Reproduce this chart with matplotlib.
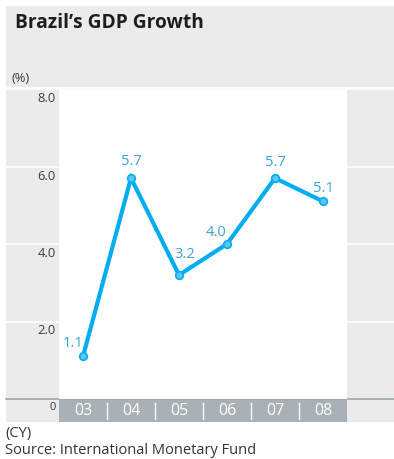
import matplotlib
matplotlib.use("Agg")
import matplotlib.pyplot as plt
from matplotlib.patches import Rectangle

plt.rcParams['font.family'] = ['Open Sans', 'DejaVu Sans']

years = ['03', '04', '05', '06', '07', '08']
growth = [1.1, 5.7, 3.2, 4.0, 5.7, 5.1]
yticks = [0, 2.0, 4.0, 6.0, 8.0]
# label offsets in pixels (dx, dy) relative to each point
lab_off = [(-10, 13), (0, 17), (6, 20), (-11, 12), (0, 16), (0, 13)]

W, H = 394, 459
BG = '#ebebeb'
BAND = '#a9b1b6'
LINE = '#00aeef'
LAB = '#3aa3da'

fig = plt.figure(figsize=(W / 100, H / 100), dpi=100)
fig.patch.set_facecolor('white')


def box(x0, y0, x1, y1):
    # pixel box (top-left origin) -> figure fraction rect
    return [x0 / W, 1 - y1 / H, (x1 - x0) / W, (y1 - y0) / H]


# background layer
bg = fig.add_axes([0, 0, 1, 1])
bg.set_xlim(0, W)
bg.set_ylim(H, 0)
bg.axis('off')
bg.add_patch(Rectangle((6, 6), 388, 416, color=BG, lw=0))
bg.add_patch(Rectangle((59, 399), 288, 23, color=BAND, lw=0))
bg.plot([6, 394], [88, 88], color='white', lw=1.2)
bg.plot([6, 394], [399, 399], color='#9ea7ac', lw=1.2)

# main plot area
px0, py0, px1, py1 = 59, 89, 347, 399
ax = fig.add_axes(box(px0, py0, px1, py1))
ax.set_facecolor('white')
ax.set_xlim(-0.5, len(years) - 0.5)
ax.set_ylim(0, 8)
for s in ax.spines.values():
    s.set_visible(False)
ax.set_xticks([])
ax.set_yticks([])

# white lines across side columns at each tick
for t in yticks[1:]:
    yp = py1 - (t / 8) * (py1 - py0)
    bg.plot([6, px0], [yp, yp], color='white', lw=1.2)
    bg.plot([px1, 394], [yp, yp], color='white', lw=1.2)
    bg.text(56, yp + 3, f'{t:.1f}', ha='right', va='top', fontsize=9.3, color='#3a3a3a')
bg.text(56, 407, '0', ha='right', va='center', fontsize=8, color='#3a3a3a')

# category band labels and separators
cw = (px1 - px0) / len(years)
for i, y in enumerate(years):
    cx = px0 + cw * (i + 0.5)
    bg.text(cx, 411, y, ha='center', va='center', fontsize=11.5, color='white')
    if i > 0:
        xs = px0 + cw * i
        bg.plot([xs, xs], [403, 419], color='white', lw=1)

ax.plot(range(len(years)), growth, color=LINE, lw=3, marker='o', ms=5.5,
        mfc='#5cc6f0', mec=LINE, mew=1.2, solid_joinstyle='miter', clip_on=False)
for i, v in enumerate(growth):
    dx, dy = lab_off[i]
    ax.annotate(f'{v:.1f}', (i, v), xytext=(dx, dy), textcoords='offset pixels',
                ha='center', va='center', fontsize=10.5, color=LAB)

bg.text(15, 23, 'Brazil\u2019s GDP Growth', ha='left', va='center', fontsize=13.8,
        fontweight='bold', color='#1e1e1e')
bg.text(12, 78, '(%)', ha='left', va='center', fontsize=9.3, color='#3a3a3a')
bg.text(5, 433, '(CY)', ha='left', va='center', fontsize=10.5, color='#333333')
bg.text(5, 451, 'Source: International Monetary Fund', ha='left', va='center',
        fontsize=10.5, color='#333333')

fig.savefig('out.png', dpi=100)
